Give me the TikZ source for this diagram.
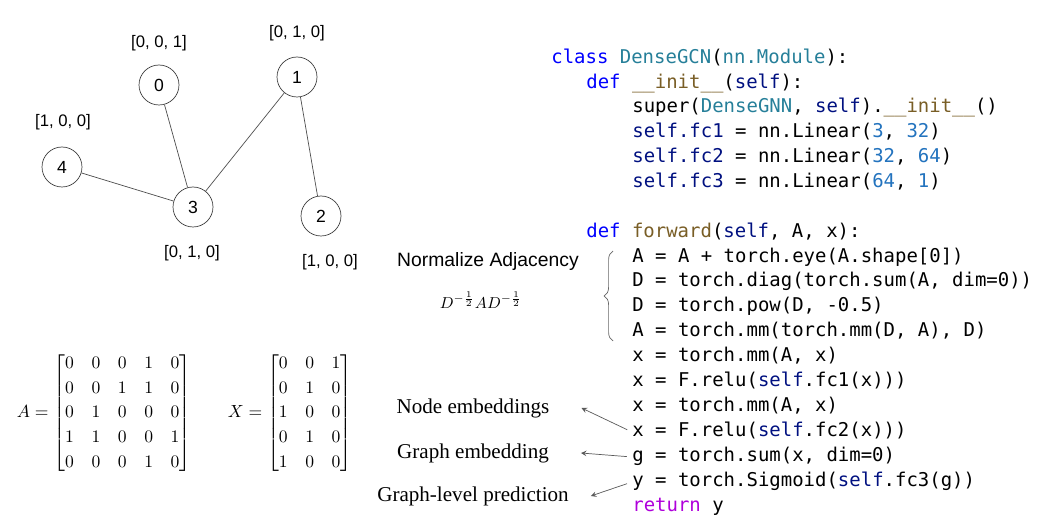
\documentclass[tikz,border=0pt]{standalone}
\usepackage{amsmath}
\usepackage{fontspec}
\usetikzlibrary{decorations.pathreplacing}

\newfontfamily\codefont{DejaVu Sans Mono}
\newfontfamily\arialfont{Liberation Sans}
\newfontfamily\timesfont{Liberation Serif}

\definecolor{kwblue}{RGB}{0,0,255}
\definecolor{clsteal}{RGB}{38,127,153}
\definecolor{fnbrown}{RGB}{121,94,38}
\definecolor{selfnavy}{RGB}{0,16,128}
\definecolor{numblue}{RGB}{35,115,190}
\definecolor{retpurple}{RGB}{175,0,219}

\newcommand{\pykw}[1]{\textcolor{kwblue}{#1}}
\newcommand{\pycls}[1]{\textcolor{clsteal}{#1}}
\newcommand{\pyfn}[1]{\textcolor{fnbrown}{#1}}
\newcommand{\pyself}[1]{\textcolor{selfnavy}{#1}}
\newcommand{\pynum}[1]{\textcolor{numblue}{#1}}
\newcommand{\pyret}[1]{\textcolor{retpurple}{#1}}

\renewcommand{\arraystretch}{1.18}

\begin{document}
\begin{tikzpicture}[x=0.02cm, y=-0.02cm, >=stealth,
    vertex/.style={circle, draw=black!75, minimum size=0.8cm, inner sep=0pt,
        font=\arialfont\fontsize{10}{12}\selectfont},
    feat/.style={font=\arialfont\fontsize{9.5}{11}\selectfont},
    edge/.style={draw=black!70},
    code/.style={anchor=west, inner sep=0pt, text height=7.5pt, text depth=2.5pt,
        font=\codefont\fontsize{10.8}{13}\selectfont},
    note/.style={inner sep=1pt, font=\timesfont\fontsize{12}{14}\selectfont},
    pointer/.style={->, draw=black!65, shorten <=3pt}]
    \useasboundingbox (0,0) rectangle (1052,526);

    % graph with one-hot node features
    \node[vertex] (n0) at (159,85) {0};
    \node[vertex] (n1) at (297,77) {1};
    \node[vertex] (n2) at (321,216) {2};
    \node[vertex] (n3) at (193,207) {3};
    \node[vertex] (n4) at (62,167) {4};

    \draw[edge] (n0) -- (n3);
    \draw[edge] (n1) -- (n3);
    \draw[edge] (n4) -- (n3);
    \draw[edge] (n1) -- (n2);

    \node[feat] (f0) at (159,43) {[0, 0, 1]};
    \node[feat] (f1) at (297,33) {[0, 1, 0]};
    \node[feat] (f2) at (330,262) {[1, 0, 0]};
    \node[feat] (f3) at (192,253) {[0, 1, 0]};
    \node[feat] (f4) at (63,122) {[1, 0, 0]};

    % adjacency and feature matrices
    \node[font=\fontsize{10}{12}\selectfont] (adj) at (104,413)
        {$A=\begin{bmatrix}0&0&0&1&0\\0&0&1&1&0\\0&1&0&0&0\\1&1&0&0&1\\0&0&0&1&0\end{bmatrix}$};
    \node[font=\fontsize{10}{12}\selectfont] (feats) at (290,413)
        {$X=\begin{bmatrix}0&0&1\\0&1&0\\1&0&0\\0&1&0\\1&0&0\end{bmatrix}$};

    % model code
    \node[code] (c1) at (551,59) {\pykw{class} \pycls{DenseGCN}(\pycls{nn.Module}):};
    \node[code] (c2) at (586,84) {\pykw{def} \pyfn{\_\_init\_\_}(\pyself{self}):};
    \node[code] (c3) at (632,108) {super(\pycls{DenseGNN}, \pyself{self}).\pyfn{\_\_init\_\_}()};
    \node[code] (c4) at (632,133) {\pyself{self.fc1} = nn.Linear(\pynum{3}, \pynum{32})};
    \node[code] (c5) at (632,158) {\pyself{self.fc2} = nn.Linear(\pynum{32}, \pynum{64})};
    \node[code] (c6) at (632,183) {\pyself{self.fc3} = nn.Linear(\pynum{64}, \pynum{1})};
    \node[code] (c7) at (586,233) {\pykw{def} \pyfn{forward}(\pyself{self}, A, x):};
    \node[code] (c8) at (632,258) {A = A + torch.eye(A.shape[0])};
    \node[code] (c9) at (632,282) {D = torch.diag(torch.sum(A, dim=0))};
    \node[code] (c10) at (632,307) {D = torch.pow(D, -0.5)};
    \node[code] (c11) at (632,332) {A = torch.mm(torch.mm(D, A), D)};
    \node[code] (c12) at (632,357) {x = torch.mm(A, x)};
    \node[code] (c13) at (632,382) {x = F.relu(\pyself{self}.fc1(x)))};
    \node[code] (c14) at (632,407) {x = torch.mm(A, x)};
    \node[code] (c15) at (632,432) {x = F.relu(\pyself{self}.fc2(x)))};
    \node[code] (c16) at (632,457) {g = torch.sum(x, dim=0)};
    \node[code] (c17) at (632,482) {y = torch.Sigmoid(\pyself{self}.fc3(g))};
    \node[code] (c18) at (632,507) {\pyret{return} y};

    % normalisation step
    \draw[decorate, decoration={brace, amplitude=5pt}, black!60] (613,341) -- (613,251);
    \node[font=\arialfont\fontsize{11}{13}\selectfont] (norm) at (488,262) {Normalize Adjacency};
    \node[font=\fontsize{9}{11}\selectfont] (normeq) at (481,300)
        {$D^{-\frac{1}{2}}AD^{-\frac{1}{2}}$};

    % what each part gives
    \node[note] (lnode) at (473,408) {Node embeddings};
    \node[note] (lgraph) at (473,453) {Graph embedding};
    \node[note] (lpred) at (473,496) {Graph-level prediction};

    \draw[pointer] (c15.west) -- ([xshift=0.6cm]lnode.east);
    \draw[pointer] (c16.west) -- ([xshift=0.6cm]lgraph.east);
    \draw[pointer] (c17.west) -- ([xshift=0.4cm]lpred.east);
\end{tikzpicture}
\end{document}
